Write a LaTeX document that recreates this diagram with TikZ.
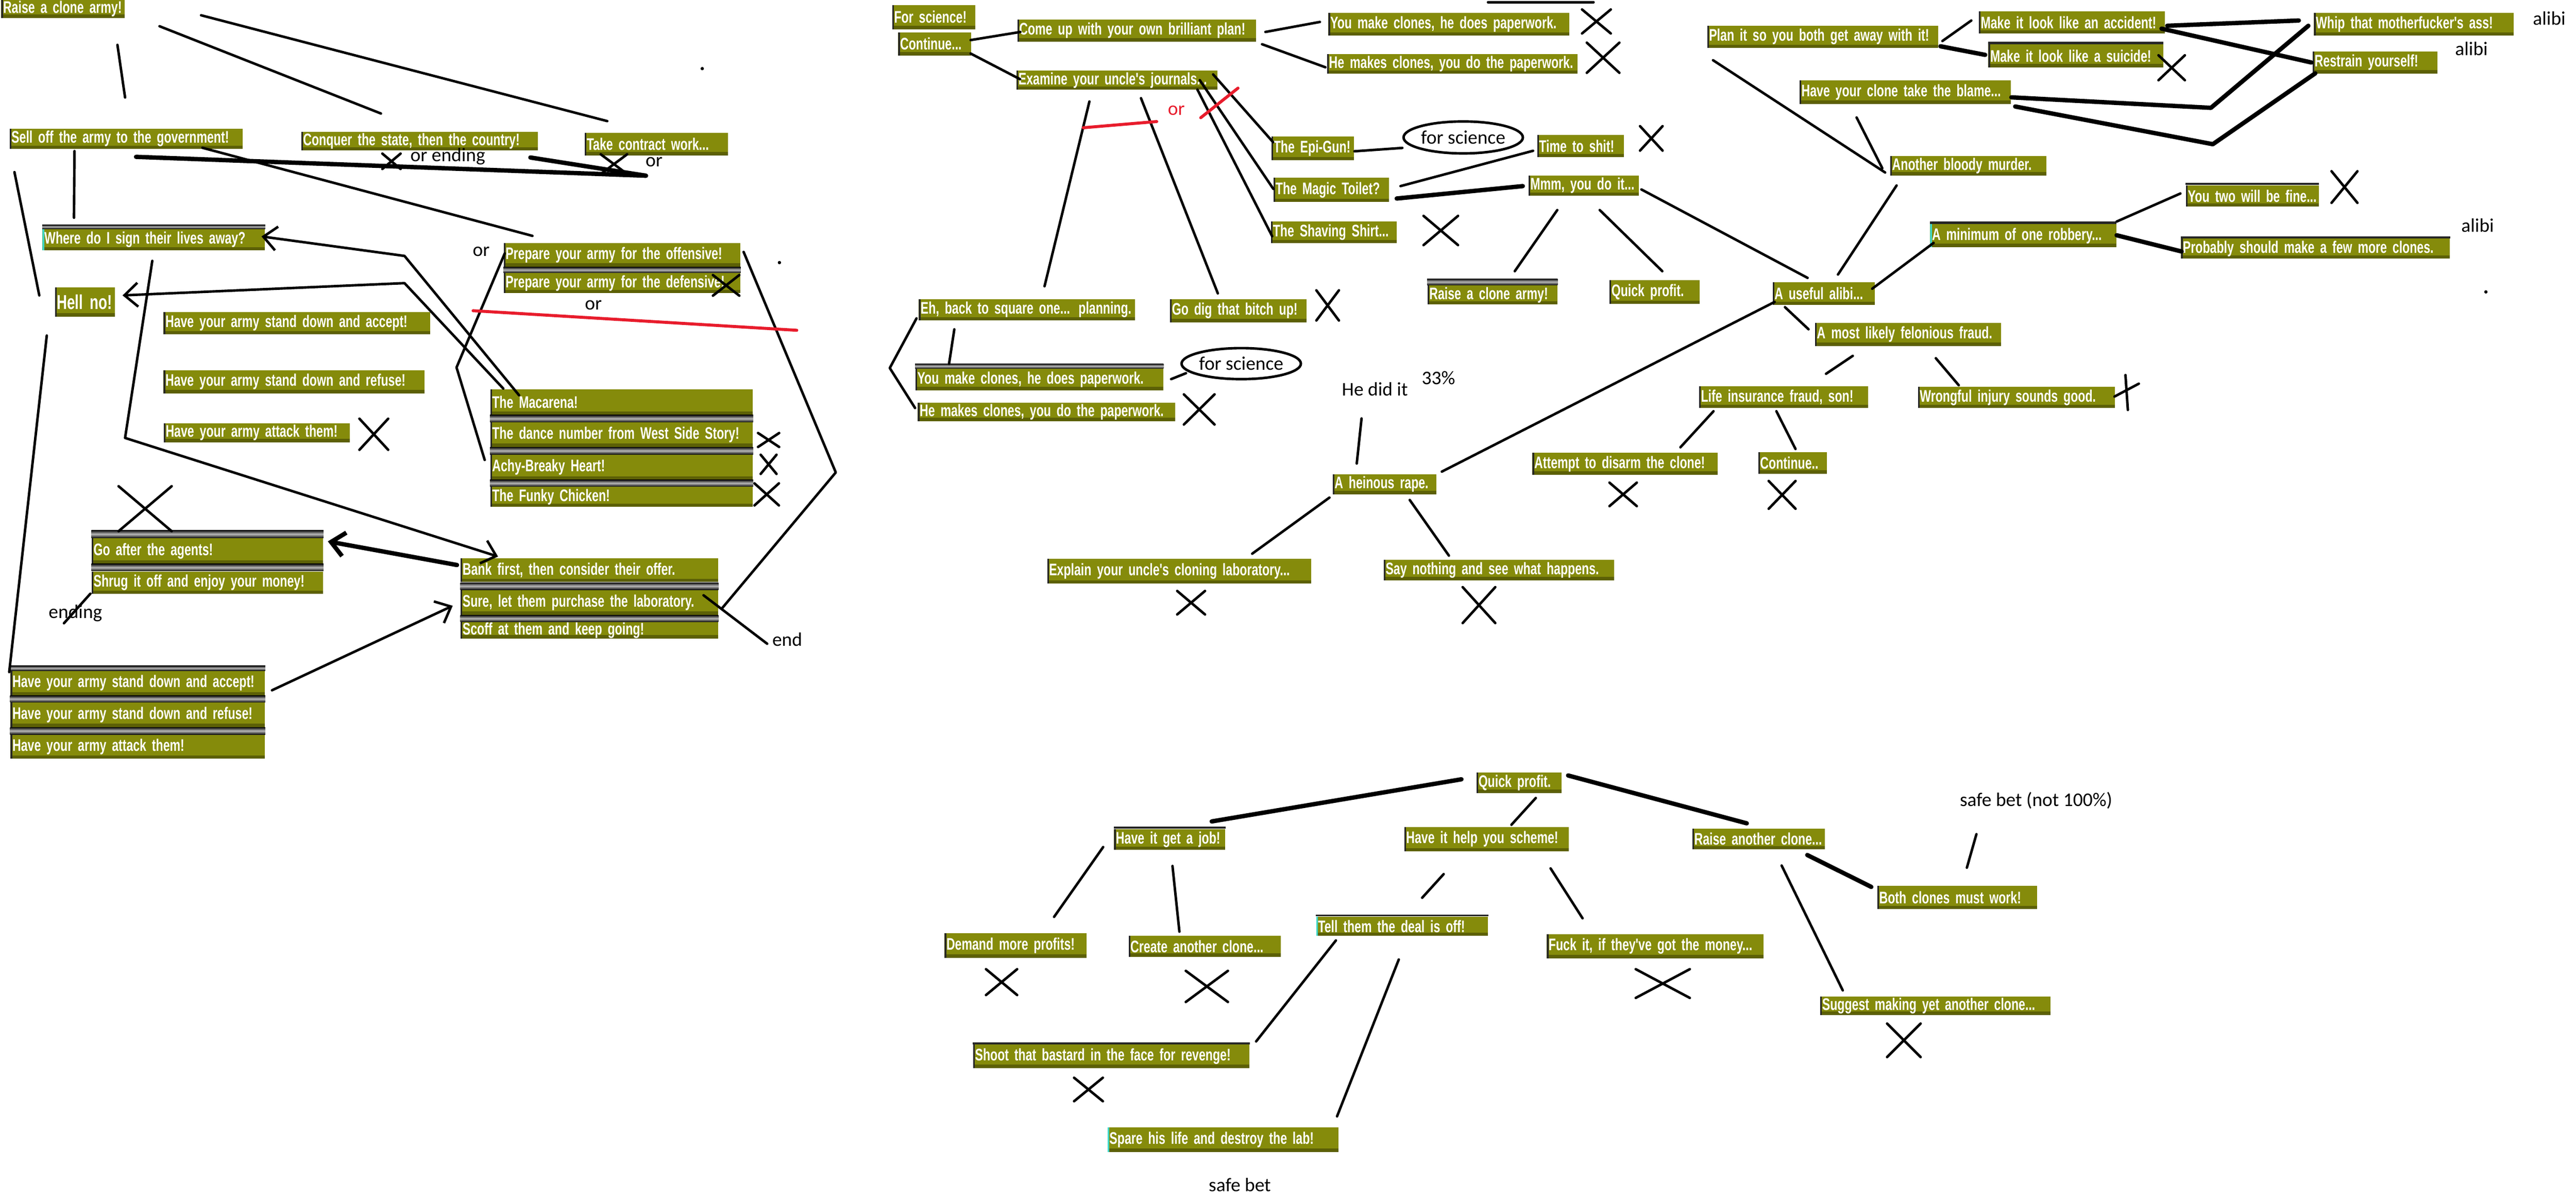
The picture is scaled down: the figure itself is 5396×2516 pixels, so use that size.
\documentclass[tikz,border=0pt]{standalone}
\usepackage{fontspec}
\usetikzlibrary{positioning,shapes.geometric,shapes.misc,arrows.meta}
\newfontfamily\boxfont[FakeStretch=0.71]{Liberation Sans}
\newfontfamily\notefont{Carlito}
\definecolor{olv}{RGB}{133,139,11}
\definecolor{olvdark}{RGB}{92,96,6}
\definecolor{tealedge}{RGB}{60,215,200}
\definecolor{redink}{RGB}{232,28,44}
\tikzset{
    opt/.style={rectangle, fill=olv, text=white, inner xsep=0.4mm, inner ysep=0.3mm,
        font=\boxfont\bfseries\fontsize{10}{11}\selectfont,
        execute at begin node=\hbox\bgroup, execute at end node=\egroup,
        path picture={
            \fill[olvdark] (path picture bounding box.south west) rectangle ([yshift=0.7mm]path picture bounding box.south east);
            \fill[#1] (path picture bounding box.south west) rectangle ([xshift=0.35mm]path picture bounding box.north west);
        }},
    opt/.default=black!85,
    wd/.style={text width=#1},
    chrome/.style={top color=black!95, bottom color=black!95, middle color=gray!55},
    pen/.style={line width=1.5pt, line cap=round, line join=round},
    heavy/.style={pen, line width=2.6pt},
    redpen/.style={pen, draw=redink, line width=1.8pt},
    barb/.style={-{Straight Barb[length=2.8mm, width=5mm]}},
    note/.style={inner sep=0, font=\notefont\fontsize{11.5}{13}\selectfont},
    xmark/.style 2 args={cross out, draw, pen, inner sep=0, minimum width=#1, minimum height=#2},
    bubble/.style={ellipse, draw, line width=1.5pt, inner sep=0, font=\notefont\fontsize{11.5}{13}\selectfont}
}
\begin{document}
\begin{tikzpicture}[x=0.1mm, y=-0.1mm]
    \fill[white] (0,0) rectangle (5396,2516);
    \useasboundingbox (0,0) rectangle (5396,2516);

    \node[opt, wd=25.1mm, minimum height=3.6mm] (army1) at (132,18) {Raise a clone army!};
    \node[opt, wd=48mm, minimum height=4.2mm] (selloff) at (264,291) {Sell off the army to the government!};
    \node[opt, wd=48.8mm, minimum height=3.4mm] (conquer) at (879,296) {Conquer the state, then the country!};
    \node[opt, wd=29.2mm, minimum height=4.7mm] (contract) at (1375,302) {Take contract work...};
    \node[opt=tealedge, wd=45.8mm, minimum height=4.5mm] (sign) at (322,502.5) {Where do I sign their lives away?};
    \node[opt, wd=11.8mm, minimum height=6.1mm, font=\boxfont\bfseries\fontsize{12}{14}\selectfont] (hellno) at (178,633) {Hell no!};
    \node[opt, wd=55.1mm, minimum height=4.7mm] (accept1) at (622,677) {Have your army stand down and accept!};
    \node[opt, wd=53.9mm, minimum height=4.9mm] (refuse1) at (616,800) {Have your army stand down and refuse!};
    \node[opt, wd=38.2mm, minimum height=3.9mm] (attack1) at (538,907) {Have your army attack them!};
    \node[opt, wd=48.8mm, minimum height=5mm] (offense) at (1303,534) {Prepare your army for the offensive!};
    \node[opt, wd=48.8mm, minimum height=4.2mm, below=1.2mm of offense] (defense) {Prepare your army for the defensive!};
    \node[opt, wd=54.2mm, minimum height=5.3mm] (macarena) at (1302,842.5) {The Macarena!};
    \node[opt, wd=54.2mm, minimum height=5.1mm, below=1.5mm of macarena] (dance) {The dance number from West Side Story!};
    \node[opt, wd=54.2mm, minimum height=5.2mm, below=1.5mm of dance] (achy) {Achy-Breaky Heart!};
    \node[opt, wd=54.2mm, minimum height=4.2mm, below=1.4mm of achy] (funky) {The Funky Chicken!};
    \node[opt, wd=47.7mm, minimum height=5.3mm] (agents) at (434.5,1154.5) {Go after the agents!};
    \node[opt, wd=47.7mm, minimum height=4.7mm, below=1.5mm of agents] (shrug) {Shrug it off and enjoy your money!};
    \node[opt, wd=53.1mm, minimum height=5mm] (bank) at (1234.5,1195) {Bank first, then consider their offer.};
    \node[opt, wd=53.1mm, minimum height=5.2mm, below=1.5mm of bank] (sure) {Sure, let them purchase the laboratory.};
    \node[opt, wd=53.1mm, minimum height=3.4mm, inner ysep=0mm, below=1.4mm of sure] (scoff) {Scoff at them and keep going!};
    \node[opt, wd=52.5mm, minimum height=5.1mm] (accept2) at (288.5,1431.5) {Have your army stand down and accept!};
    \node[opt, wd=52.5mm, minimum height=5.1mm, below=1.4mm of accept2] (refuse2) {Have your army stand down and refuse!};
    \node[opt, wd=52.5mm, minimum height=5mm, below=1.5mm of refuse2] (attack2) {Have your army attack them!};

    \node[opt, wd=16.6mm, minimum height=5mm] (forsci) at (1956,36) {For science!};
    \node[opt, wd=14.5mm, minimum height=4.9mm] (cont1) at (1958,92) {Continue...};
    \node[opt, wd=49.2mm, minimum height=4.6mm] (comeup) at (2381,64) {Come up with your own brilliant plan!};
    \node[opt, wd=49.7mm, minimum height=4.7mm] (youmake1) at (3035,51) {You make clones, he does paperwork.};
    \node[opt, wd=51.6mm, minimum height=4.1mm] (hemakes1) at (3042,134) {He makes clones, you do the paperwork.};
    \node[opt, wd=41.3mm, minimum height=4mm] (examine) at (2340,168) {Examine your uncle's journals...};
    \node[opt, wd=16.5mm, minimum height=5mm] (epigun) at (2750,311) {The Epi-Gun!};
    \node[bubble, minimum width=23.7mm, minimum height=6.7mm] (bubble1) at (3065,288) {for science};
    \node[opt, wd=17.4mm, minimum height=4.7mm] (timeshit) at (3311,306) {Time to shit!};
    \node[opt, wd=23.4mm, minimum height=5.1mm] (magic) at (2789,398) {The Magic Toilet?};
    \node[opt, wd=22.3mm, minimum height=4.3mm] (mmm) at (3317,389) {Mmm, you do it...};
    \node[opt, wd=25.5mm, minimum height=4.5mm] (shaving) at (2794,487) {The Shaving Shirt...};
    \node[opt, wd=26.4mm, minimum height=4mm] (army2) at (3126,618) {Raise a clone army!};
    \node[opt, wd=18.1mm, minimum height=5mm] (quick1) at (3466,612) {Quick profit.};
    \node[opt, wd=44.5mm, minimum height=4.5mm] (square) at (2151,649) {Eh, back to square one... planning.};
    \node[opt, wd=27.8mm, minimum height=4.9mm] (godig) at (2594,651) {Go dig that bitch up!};
    \node[opt, wd=51.1mm, minimum height=4.5mm] (youmake2) at (2177,795.5) {You make clones, he does paperwork.};
    \node[bubble, minimum width=22.9mm, minimum height=6.5mm] (bubble2) at (2600,762) {for science};
    \node[opt, wd=53.1mm, minimum height=3.6mm] (hemakes2) at (2192,863) {He makes clones, you do the paperwork.};
    \node[opt, wd=20.9mm, minimum height=4.2mm] (rape) at (2900,1015) {A heinous rape.};
    \node[opt, wd=54.5mm, minimum height=5.2mm] (explain) at (2470,1197) {Explain your uncle's cloning laboratory...};
    \node[opt, wd=47.5mm, minimum height=4.3mm] (saynothing) at (3140,1194.5) {Say nothing and see what happens.};
    \node[opt, wd=20.6mm, minimum height=4.8mm] (useful) at (3820,615) {A useful alibi...};
    \node[opt, wd=38.2mm, minimum height=4.8mm] (felonious) at (3997,701) {A most likely felonious fraud.};
    \node[opt, wd=34.6mm, minimum height=4.6mm] (lifeins) at (3736,832) {Life insurance fraud, son!};
    \node[opt, wd=40.5mm, minimum height=4.4mm] (wrongful) at (4224,833) {Wrongful injury sounds good.};
    \node[opt, wd=38mm, minimum height=4.6mm] (disarm) at (3404,972) {Attempt to disarm the clone!};
    \node[opt, wd=13.6mm, minimum height=4.5mm] (cont2) at (3755,970) {Continue..};
    \node[opt=tealedge, wd=38.2mm, minimum height=4.8mm] (robbery) at (4238,494) {A minimum of one robbery...};
    \node[opt, wd=27mm, minimum height=4.5mm] (youtwo) at (4718,410.5) {You two will be fine...};
    \node[opt, wd=55.5mm, minimum height=4.2mm] (probably) at (4850,521) {Probably should make a few more clones.};

    \node[opt, wd=47.6mm, minimum height=4.7mm] (planit) at (3818,77) {Plan it so you both get away with it!};
    \node[opt, wd=38.2mm, minimum height=4.7mm] (accident) at (4340,47) {Make it look like an accident!};
    \node[opt, wd=35.8mm, minimum height=4.8mm] (suicide) at (4348,117) {Make it look like a suicide!};
    \node[opt, wd=41mm, minimum height=4.8mm] (whip) at (5056,51) {Whip that motherfucker's ass!};
    \node[opt, wd=25.3mm, minimum height=4.6mm] (restrain) at (4975,131) {Restrain yourself!};
    \node[opt, wd=43.5mm, minimum height=4.9mm] (blame) at (3991,193) {Have your clone take the blame...};
    \node[opt, wd=31.9mm, minimum height=4.1mm] (murder) at (4123,347.5) {Another bloody murder.};

    \node[opt, wd=17mm, minimum height=4.3mm] (quick2) at (3182,1640) {Quick profit.};
    \node[opt, wd=22.5mm, minimum height=4.4mm] (job) at (2450,1759) {Have it get a job!};
    \node[opt, wd=33.7mm, minimum height=5.1mm] (scheme) at (3114,1758.5) {Have it help you scheme!};
    \node[opt, wd=27mm, minimum height=4.4mm] (raise2) at (3684,1758) {Raise another clone...};
    \node[opt, wd=28.9mm, minimum height=5.1mm] (demand) at (2127,1981.5) {Demand more profits!};
    \node[opt, wd=31.1mm, minimum height=4.4mm] (create) at (2523.5,1983) {Create another clone...};
    \node[opt=tealedge, wd=35.2mm, minimum height=4mm] (tell) at (2937,1941) {Tell them the deal is off!};
    \node[opt, wd=44.6mm, minimum height=5mm] (fuckit) at (3467,1983) {Fuck it, if they've got the money...};
    \node[opt, wd=57.1mm, minimum height=4.9mm] (shoot) at (2328,2213.5) {Shoot that bastard in the face for revenge!};
    \node[opt=tealedge, wd=47.6mm, minimum height=5.2mm] (spare) at (2562,2388) {Spare his life and destroy the lab!};
    \node[opt, wd=32.7mm, minimum height=4.9mm] (both) at (4100,1880.5) {Both clones must work!};
    \node[opt, wd=47.4mm, minimum height=3.7mm] (suggest) at (4054,2107.5) {Suggest making yet another clone...};

    \shade[chrome] ([yshift=0.8mm]sign.north west) rectangle (sign.north east);
    \shade[chrome] (offense.south west) rectangle (defense.north east);
    \shade[chrome] (macarena.south west) rectangle (dance.north east);
    \shade[chrome] (dance.south west) rectangle (achy.north east);
    \shade[chrome] (achy.south west) rectangle (funky.north east);
    \shade[chrome] ([yshift=1.6mm]agents.north west) rectangle (agents.north east);
    \shade[chrome] (agents.south west) rectangle (shrug.north east);
    \shade[chrome] (bank.south west) rectangle (sure.north east);
    \shade[chrome] (sure.south west) rectangle (scoff.north east);
    \shade[chrome] ([yshift=1mm]accept2.north west) rectangle (accept2.north east);
    \shade[chrome] (accept2.south west) rectangle (refuse2.north east);
    \shade[chrome] (refuse2.south west) rectangle (attack2.north east);
    \shade[chrome] ([yshift=1.3mm]army2.north west) rectangle (army2.north east);
    \shade[chrome] ([yshift=1mm]youmake2.north west) rectangle (youmake2.north east);
    \fill[black!85] ([yshift=0.5mm]robbery.north west) rectangle (robbery.north east);
    \fill[black!85] ([yshift=0.4mm]youtwo.north west) rectangle (youtwo.north east);
    \fill[black!85] ([yshift=0.4mm]probably.north west) rectangle (probably.north east);
    \fill[black!85] ([yshift=0.5mm]suicide.north west) rectangle (suicide.north east);
    \fill[black!85] ([yshift=0.4mm]job.north west) rectangle (job.north east);
    \fill[black!85] ([yshift=0.4mm]tell.north west) rectangle (tell.north east);
    \fill[black!85] ([yshift=0.4mm]shoot.north west) rectangle (shoot.north east);

    \node[note] (orending) at (938,328) {or ending};
    \node[note] (or1) at (1370,339) {or};
    \node[note] (or2) at (1008,527) {or};
    \node[note] (or3) at (1243,640) {or};
    \node[note] (ending) at (158,1285) {ending};
    \node[note] (endtxt) at (1649,1340) {end};
    \node[note, text=redink] (redor) at (2464,232) {or};
    \node[note] (hedid) at (2880,816) {He did it};
    \node[note] (pct) at (3013,792) {33\%};
    \node[note] (alibi1) at (5340,38) {alibi};
    \node[note] (alibi2) at (5177,102) {alibi};
    \node[note] (alibi3) at (5190,472) {alibi};
    \node[note] (safe1) at (4265,1678) {safe bet (not 100\%)};
    \node[note] (safe2) at (2597,2483) {safe bet};

    \node[xmark={3.3mm}{2.7mm}] (x1) at (820,338) {};
    \node[xmark={5mm}{3.6mm}] (x2) at (1286,344) {};
    \node[xmark={5.5mm}{6mm}] (x3) at (783,910) {};
    \node[xmark={5mm}{3.8mm}] (x4) at (1521,598) {};
    \node[xmark={3.9mm}{2.4mm}] (x5) at (1610,922) {};
    \node[xmark={2.8mm}{3.5mm}] (x6) at (1610,973) {};
    \node[xmark={4.6mm}{4.1mm}] (x7) at (1606,1036) {};
    \node[xmark={10.6mm}{8.9mm}] (x8) at (304,1066) {};
    \node[xmark={5.5mm}{4.5mm}] (x9) at (3344,45) {};
    \node[xmark={6.3mm}{5.8mm}] (x10) at (3358,121) {};
    \node[xmark={4.2mm}{4.6mm}] (x11) at (3459,290) {};
    \node[xmark={6.7mm}{5.6mm}] (x12) at (3018,483) {};
    \node[xmark={4.2mm}{5.8mm}] (x13) at (2781,640) {};
    \node[xmark={5.9mm}{5.8mm}] (x14) at (2512,858) {};
    \node[xmark={5.3mm}{4.4mm}] (x15) at (2495,1263) {};
    \node[xmark={6.3mm}{7mm}] (x16) at (3098,1268) {};
    \node[xmark={5.2mm}{4.4mm}] (x17) at (3400,1036) {};
    \node[xmark={5.1mm}{5.3mm}] (x18) at (3733,1037) {};
    \node[xmark={4.9mm}{6.1mm}] (x19) at (4911,392) {};
    \node[xmark={5mm}{4.7mm}] (x20) at (4549,142) {};
    \node[xmark={6mm}{4.9mm}] (x21) at (2098,2058) {};
    \node[xmark={8.3mm}{6mm}] (x22) at (2528,2067) {};
    \node[xmark={10.8mm}{5.5mm}] (x23) at (3483,2061) {};
    \node[xmark={5.5mm}{4.4mm}] (x24) at (2280,2283) {};
    \node[xmark={6.5mm}{6.5mm}] (x25) at (3988,2180) {};

    \draw[pen] ([shift={(114,56)}]army1.south) -- ([shift={(-2,-65)}]selloff.north);
    \draw[pen] ([shift={(72,37)}]army1.east) -- ([shift={(-81,-38)}]conquer.north);
    \draw[pen] ([shift={(159,14)}]army1.east) -- ([shift={(-103,-24)}]contract.north);
    \coordinate (meet) at ([shift={(-22,42)}]contract.south);
    \draw[heavy] ([shift={(21,16)}]selloff.south) -- (meet);
    \draw[heavy] ([shift={(232,14)}]conquer.south) -- (meet);
    \draw[pen] ([shift={(160,-3)}]selloff.south) -- ([shift={(61,-14)}]offense.north west);
    \draw[pen] ([shift={(-108,4)}]selloff.south) -- ([shift={(-167,-23)}]sign.north);
    \draw[pen] ([shift={(11,48)}]selloff.south west) -- ([shift={(-32,-14)}]hellno.west);
    \draw[pen] ([shift={(-80,39)}]hellno.south) -- ([shift={(-2,3)}]accept2.north west);
    \draw[pen, barb] ([shift={(61,13)}]macarena.north west) -- ++(-240,-292) -- ([shift={(-8,-7)}]sign.east);
    \draw[pen, barb] ([shift={(28,-1)}]macarena.north west) -- ++(-207,-221) -- ([shift={(15,-14)}]hellno.east);
    \draw[pen, barb] ([shift={(-3,21)}]sign.south) -- ++(-57,371) -- ([shift={(79,-3)}]bank.north west);
    \draw[heavy, barb] ([shift={(-7,-11)}]bank.west) -- ([shift={(9,-20)}]agents.east);
    \draw[pen] ([shift={(-2,-1)}]shrug.south west) -- ([shift={(-24,21)}]ending.center);
    \draw[pen, barb] ([shift={(14,15)}]accept2.east) -- ([shift={(-16,7)}]sure.west);
    \draw[pen] ([shift={(3,-3)}]offense.west) -- ++(-101,239) -- ([shift={(-11,-15)}]achy.west);
    \draw[pen] ([shift={(6,-6)}]offense.east) -- ++(193,462) -- ([shift={(8,12)}]sure.east);
    \draw[pen] ([shift={(-31,-15)}]sure.east) -- ([shift={(-42,9)}]endtxt.center);
    \draw[redpen] ([shift={(-312,36)}]defense.south) -- ([shift={(366,77)}]defense.south);
    \fill ([shift={(96,-134)}]contract.north) circle (0.35mm);
    \fill ([shift={(81,42)}]offense.north east) circle (0.35mm);

    \draw[pen] ([shift={(-2,-8)}]cont1.east) -- ([shift={(7,3)}]comeup.west);
    \draw[pen] ([shift={(19,3)}]comeup.east) -- ([shift={(-17,-5)}]youmake1.west);
    \draw[pen] ([shift={(12,5)}]comeup.south east) -- ([shift={(-3,7)}]hemakes1.west);
    \draw[pen] ([shift={(-2,-5)}]cont1.south east) -- ([shift={(8,-2)}]examine.west);
    \draw[pen] ([shift={(82,-22)}]youmake1.north) -- ([shift={(303,-22)}]youmake1.north);
    \draw[pen] ([shift={(-58,24)}]examine.south) -- ([shift={(37,-26)}]square.north);
    \draw[pen] ([shift={(50,17)}]examine.south) -- ([shift={(-43,-11)}]godig.north);
    \draw[pen] ([shift={(-10,-12)}]examine.east) -- ([shift={(4,-13)}]epigun.west);
    \draw[pen] ([shift={(-38,0)}]examine.east) -- ([shift={(0,-2)}]magic.west);
    \draw[pen] ([shift={(-43,-1)}]examine.south east) -- ([shift={(3,8)}]shaving.west);
    \draw[redpen] ([shift={(-71,79)}]examine.south) -- ([shift={(83,66)}]examine.south);
    \draw[redpen] ([shift={(-36,58)}]examine.south east) -- ([shift={(42,-4)}]examine.south east);
    \draw[pen] ([shift={(0,6)}]epigun.east) -- ([shift={(0,22)}]bubble1.west);
    \draw[pen] ([shift={(23,-8)}]magic.east) -- ([shift={(-8,10)}]timeshit.west);
    \draw[heavy] ([shift={(15,18)}]magic.east) -- ([shift={(-11,1)}]mmm.west);
    \draw[pen] ([shift={(-55,29)}]mmm.south) -- ([shift={(47,-29)}]army2.north);
    \draw[pen] ([shift={(34,29)}]mmm.south) -- ([shift={(16,-18)}]quick1.north);
    \draw[pen] ([shift={(5,8)}]mmm.east) -- ([shift={(74,-8)}]useful.north west);
    \draw[pen] ([shift={(-4,-5)}]square.south west) -- ++(-56,104) -- ([shift={(-5,-8)}]hemakes2.west);
    \draw[pen] ([shift={(-152,18)}]square.south) -- ([shift={(-189,-10)}]youmake2.north);
    \draw[pen] ([shift={(16,-1)}]youmake2.east) -- ([shift={(12,20)}]bubble2.west);
    \draw[pen] ([shift={(-28,61)}]hedid.center) -- ([shift={(-58,-22)}]rape.north);
    \draw[pen] ([shift={(11,-5)}]rape.north east) -- ([shift={(5,-7)}]useful.south west);
    \draw[pen] ([shift={(-6,6)}]rape.south west) -- ([shift={(153,-10)}]explain.north);
    \draw[pen] ([shift={(53,11)}]rape.south) -- ([shift={(-105,-8)}]saynothing.north);
    \draw[pen] ([shift={(14,20)}]murder.south west) -- ([shift={(30,-15)}]useful.north);
    \draw[pen] ([shift={(-81,4)}]useful.south) -- ([shift={(-13,-11)}]felonious.west);
    \draw[pen] ([shift={(-6,-10)}]useful.east) -- ([shift={(8,15)}]robbery.west);
    \draw[pen] ([shift={(-116,20)}]felonious.south) -- ([shift={(89,-25)}]lifeins.north);
    \draw[pen] ([shift={(58,25)}]felonious.south) -- ([shift={(-121,-3)}]wrongful.north);
    \draw[pen] ([shift={(31,6)}]lifeins.south west) -- ([shift={(116,-11)}]disarm.north);
    \draw[pen] ([shift={(-15,6)}]lifeins.south) -- ([shift={(6,-6)}]cont2.north);
    \draw[pen] ([shift={(0,-5)}]robbery.north east) -- ([shift={(-11,-5)}]youtwo.west);
    \draw[heavy] ([shift={(0,-1)}]robbery.east) -- ([shift={(2,6)}]probably.west);
    \draw[pen] ([shift={(21,-47)}]wrongful.east) -- ([shift={(26,26)}]wrongful.east);
    \draw[pen] ([shift={(-2,-2)}]wrongful.east) -- ([shift={(49,-29)}]wrongful.east);
    \fill ([shift={(75,69)}]probably.south east) circle (0.35mm);

    \draw[pen] ([shift={(8,9)}]planit.east) -- ([shift={(-15,-4)}]accident.west);
    \draw[heavy] ([shift={(4,20)}]planit.east) -- ([shift={(-6,-2)}]suicide.west);
    \draw[heavy] ([shift={(4,7)}]accident.east) -- ([shift={(-31,-8)}]whip.west);
    \draw[heavy] ([shift={(-8,13)}]accident.east) -- ([shift={(-2,0)}]restrain.west);
    \draw[heavy] ([shift={(0,11)}]blame.east) -- ++(418,22) -- ([shift={(-11,3)}]whip.west);
    \draw[heavy] ([shift={(8,5)}]blame.south east) -- ++(414,79) -- ([shift={(6,-1)}]restrain.south west);
    \draw[pen] ([shift={(13,25)}]planit.south west) -- ([shift={(-10,14)}]murder.west);
    \draw[pen] ([shift={(-102,28)}]blame.south) -- ([shift={(-16,5)}]murder.west);

    \draw[heavy] ([shift={(-31,-7)}]quick2.west) -- ([shift={(-29,-15)}]job.north east);
    \draw[pen] ([shift={(35,10)}]quick2.south) -- ([shift={(52,-4)}]scheme.north);
    \draw[heavy] ([shift={(13,-15)}]quick2.east) -- ([shift={(-25,-10)}]raise2.north);
    \draw[pen] ([shift={(-22,16)}]job.west) -- ([shift={(81,-34)}]demand.north);
    \draw[pen] ([shift={(6,33)}]job.south) -- ([shift={(-53,-8)}]create.north);
    \draw[pen] ([shift={(-90,47)}]scheme.south) -- ([shift={(42,-39)}]tell.north);
    \draw[pen] ([shift={(134,35)}]scheme.south) -- ([shift={(-152,-33)}]fuckit.north);
    \draw[pen] ([shift={(42,9)}]tell.south west) -- ([shift={(13,-6)}]shoot.north east);
    \draw[pen] ([shift={(-7,49)}]tell.south) -- ([shift={(-4,-22)}]spare.north east);
    \draw[heavy] ([shift={(-38,11)}]raise2.south east) -- ([shift={(-12,-22)}]both.west);
    \draw[pen] ([shift={(48,33)}]raise2.south) -- ([shift={(-194,-12)}]suggest.north);
    \draw[pen] ([shift={(-125,70)}]safe1.center) -- ([shift={(20,-37)}]both.north);
\end{tikzpicture}
\end{document}
